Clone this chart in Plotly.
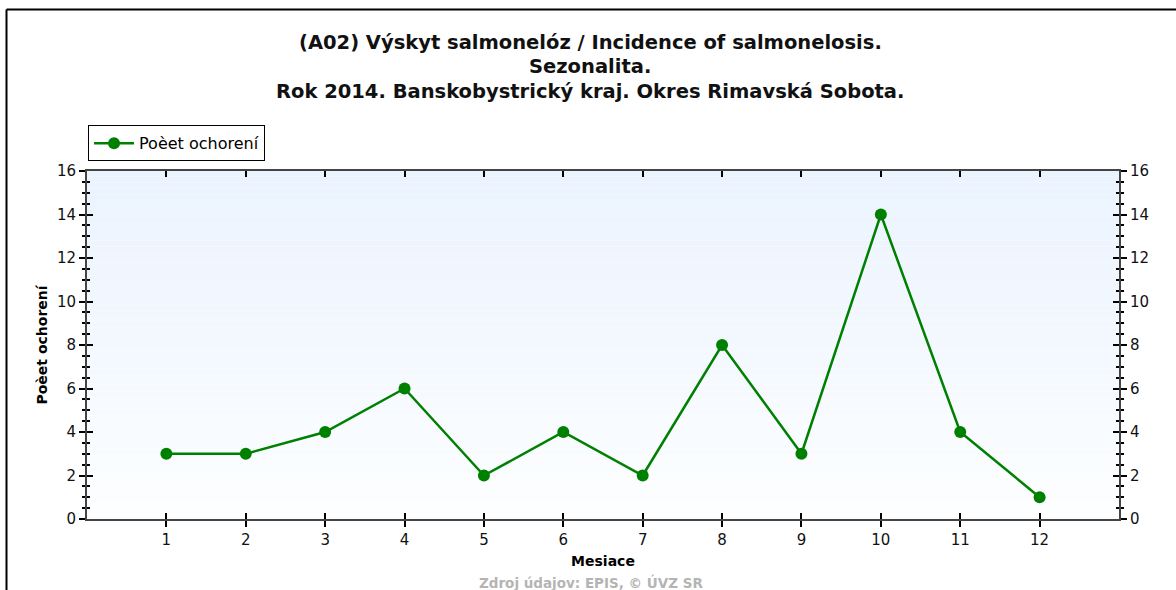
import plotly.graph_objects as go

# data
mesiace = [1, 2, 3, 4, 5, 6, 7, 8, 9, 10, 11, 12]
pocet = [3, 3, 4, 6, 2, 4, 2, 8, 3, 14, 4, 1]
y_ticks = [0, 2, 4, 6, 8, 10, 12, 14, 16]

W, H = 1176, 590
L, R, T, B = 87, 1119, 171, 519
pw, ph = R - L, B - T

def px_x(p):
    return (p - L) / pw

def px_y(p):
    return (B - p) / ph

fig = go.Figure()
fig.add_trace(go.Scatter(
    x=mesiace, y=pocet, mode='lines+markers', name='Poèet ochorení',
    line=dict(color='#008000', width=2.5),
    marker=dict(color='#008000', size=12),
))

# gradient pozadie
n = 60
shapes = []
for i in range(n):
    t = i / (n - 1)
    r = round(234 + (253 - 234) * t)
    g = round(243 + (254 - 243) * t)
    b = round(254 + (255 - 254) * t)
    shapes.append(dict(type='rect', xref='x domain', yref='y domain',
                       x0=0, x1=1, y0=1 - (i + 1) / n, y1=1 - i / n,
                       fillcolor=f'rgb({r},{g},{b})', line=dict(width=0), layer='below'))
# ramcek okolo grafu
shapes.append(dict(type='line', xref='paper', yref='paper', x0=px_x(6.5), x1=px_x(1180),
                   y0=px_y(9.5), y1=px_y(9.5), line=dict(color='black', width=2)))
shapes.append(dict(type='line', xref='paper', yref='paper', x0=px_x(6.5), x1=px_x(6.5),
                   y0=px_y(9.5), y1=px_y(600), line=dict(color='black', width=2)))

font = 'DejaVu Sans, Verdana, sans-serif'
ax_common = dict(showgrid=False, zeroline=False, linecolor='#444', linewidth=2,
                 tickcolor='black', tickwidth=1.5, tickfont=dict(family=font, size=15, color='#111'))

fig.update_layout(
    width=W, height=H, margin=dict(l=L, r=W - R, t=T, b=H - B),
    paper_bgcolor='white', plot_bgcolor='rgba(0,0,0,0)',
    font=dict(family=font),
    showlegend=True,
    legend=dict(x=0.001, y=1.028, xanchor='left', yanchor='bottom',
                bordercolor='black', borderwidth=1, bgcolor='white',
                font=dict(family=font, size=16, color='black'),
                itemwidth=40, tracegroupgap=0),
    xaxis=dict(range=[0, 13], tickvals=mesiace, ticks='outside', ticklen=6,
               showline=True, mirror=False,
               title=dict(text='<b>Mesiace</b>', font=dict(family=font, size=14, color='black'), standoff=8),
               **ax_common),
    xaxis2=dict(range=[0, 13], tickvals=mesiace, ticks='inside', ticklen=6,
                overlaying='x', side='top', showticklabels=False, showline=True, **ax_common),
    xaxis3=dict(range=[0, 13], tickvals=mesiace, ticks='inside', ticklen=6,
                overlaying='x', side='bottom', showticklabels=False, showline=False, **ax_common),
    yaxis=dict(range=[0, 16], tickvals=y_ticks, ticks='outside', ticklen=6, showline=True,
               minor=dict(dtick=0.5, ticks='outside', ticklen=3, tickcolor='black'),
               title=dict(text='<b>Poèet ochorení</b>', font=dict(family=font, size=14, color='black'), standoff=6),
               **ax_common),
    yaxis2=dict(range=[0, 16], tickvals=y_ticks, ticks='outside', ticklen=6, showline=True,
                overlaying='y', side='right',
                minor=dict(dtick=0.5, ticks='outside', ticklen=3, tickcolor='black'),
                **ax_common),
    yaxis3=dict(range=[0, 16], tickvals=y_ticks, ticks='inside', ticklen=6, showline=False,
                overlaying='y', side='left', showticklabels=False,
                minor=dict(dtick=0.5, ticks='inside', ticklen=3, tickcolor='black'),
                **ax_common),
    yaxis4=dict(range=[0, 16], tickvals=y_ticks, ticks='inside', ticklen=6, showline=False,
                overlaying='y', side='right', showticklabels=False,
                minor=dict(dtick=0.5, ticks='inside', ticklen=3, tickcolor='black'),
                **ax_common),
    shapes=shapes,
)

# pomocne stopy pre dalsie osi (neviditelne)
for xa, ya in [('x2', 'y2'), ('x3', 'y3'), ('x', 'y4')]:
    fig.add_trace(go.Scatter(x=[mesiace[0]], y=[pocet[0]], xaxis=xa, yaxis=ya, mode='markers',
                             marker=dict(opacity=0), showlegend=False, hoverinfo='skip'))

titles = ['(A02) Výskyt salmonelóz / Incidence of salmonelosis.', 'Sezonalita.',
          'Rok 2014. Banskobystrický kraj. Okres Rimavská Sobota.']
for txt, py in zip(titles, [42, 66, 92]):
    fig.add_annotation(text=f'<b>{txt}</b>', xref='paper', yref='paper', x=px_x(590), y=px_y(py),
                       showarrow=False, font=dict(family=font, size=19.5, color='#111'),
                       xanchor='center', yanchor='middle')

fig.add_annotation(text='<b>Zdroj údajov: EPIS, © ÚVZ SR</b>', xref='paper', yref='paper',
                   x=px_x(591), y=px_y(582), showarrow=False, xanchor='center', yanchor='middle',
                   font=dict(family=font, size=13.5, color='#b4b4b4'))

fig.write_html('out.html', config={'displayModeBar': False},
               post_script="document.body.style.margin='0';")
